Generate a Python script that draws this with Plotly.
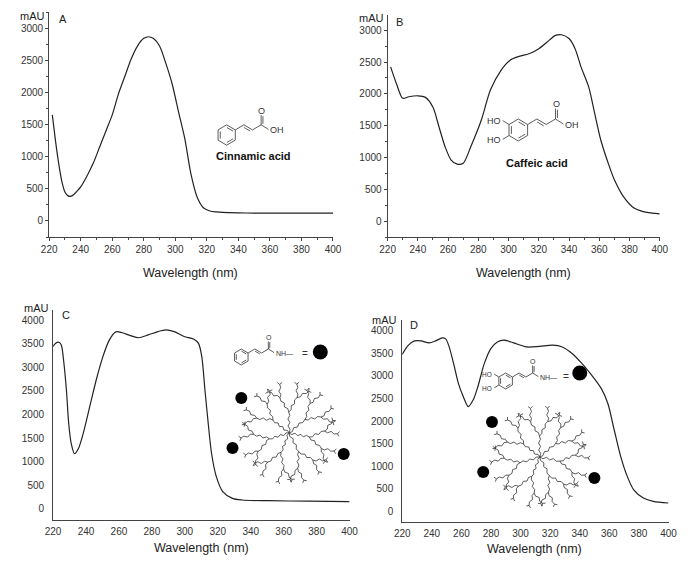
import math
import plotly.graph_objects as go

# ---------------- data ----------------
wl_a = [222, 224, 226, 228, 230, 232, 234, 236, 238, 240, 244, 248, 252, 256, 260, 264, 268, 272, 276,
        280, 283, 286, 290, 294, 298, 302, 306, 310, 314, 318, 322, 326, 330, 340, 350, 360, 380, 400]
abs_a = [1650, 1250, 900, 620, 450, 390, 385, 420, 470, 530, 700, 900, 1150, 1400, 1650, 1980, 2250,
         2520, 2720, 2840, 2865, 2840, 2720, 2450, 2130, 1700, 1280, 720, 360, 200, 155, 140, 132, 125,
         122, 120, 120, 120]

wl_b = [222, 226, 230, 234, 240, 245, 250, 254, 258, 262, 266, 270, 275, 282, 288, 295, 301, 307, 314,
        320, 327, 331, 335, 340, 344, 348, 353, 357, 361, 366, 370, 376, 383, 389, 395, 400]
abs_b = [2425, 2150, 1930, 1955, 1970, 1945, 1790, 1480, 1170, 960, 895, 910, 1170, 1590, 2060, 2370,
         2530, 2590, 2635, 2710, 2845, 2920, 2930, 2870, 2710, 2420, 2110, 1690, 1275, 905, 650, 385,
         205, 150, 125, 115]

wl_c = [220, 221.6, 223.6, 225, 226.6, 228.1, 229.5, 231, 233, 235.4, 238.3, 242.3, 246.2, 250.2, 254.2,
        258.1, 262, 267, 272, 277.8, 283.7, 288.6, 293.5, 299.5, 305.3, 308.3, 310.3, 312.2, 314.2,
        316.2, 319.1, 323, 328.9, 334.8, 350.6, 375, 400]
abs_c = [3440, 3510, 3530, 3470, 3080, 2520, 1810, 1390, 1170, 1280, 1600, 2170, 2730, 3220, 3580,
         3750, 3730, 3670, 3625, 3685, 3755, 3790, 3755, 3650, 3600, 3505, 3220, 2520, 1810, 1180,
         685, 370, 225, 190, 175, 165, 155]

wl_d = [220, 224, 228.3, 232.7, 238.2, 242.6, 247, 249.2, 251.4, 254.7, 258, 261.3, 264.6, 267.9,
        271.1, 275.5, 279.9, 284.3, 288.7, 295.3, 304, 312.9, 321.6, 328.2, 334.8, 341.4, 348, 354.6,
        359, 363.3, 367.7, 372.1, 376.5, 383, 389.7, 400]
abs_d = [3480, 3680, 3780, 3780, 3735, 3780, 3845, 3830, 3680, 3280, 2830, 2540, 2320, 2465, 2760,
         3280, 3610, 3755, 3795, 3735, 3645, 3660, 3685, 3645, 3500, 3280, 3020, 2720, 2390, 1800,
         1210, 770, 470, 290, 215, 178]

x_ticks = [220, 240, 260, 280, 300, 320, 340, 360, 380, 400]
y_ticks_ab = [0, 500, 1000, 1500, 2000, 2500, 3000]
y_ticks_cd = [0, 500, 1000, 1500, 2000, 2500, 3000, 3500, 4000]

panel_letters = ["A", "B", "C", "D"]
compound_names = ["Cinnamic acid", "Caffeic acid"]
x_title = "Wavelength (nm)"
y_unit = "mAU"

W, H = 690, 567
OFF = 8  # page body margin: the figure starts 8 px in from the window corner
FONT = "Liberation Sans, Arial, sans-serif"
INK = "#222222"

fig = go.Figure()

# ---------------- spectra ----------------
for i, (wx, wy) in enumerate([(wl_a, abs_a), (wl_b, abs_b), (wl_c, abs_c), (wl_d, abs_d)]):
    sfx = "" if i == 0 else str(i + 1)
    fig.add_trace(go.Scatter(x=wx, y=wy, mode="lines", line=dict(color=INK, width=1.2, shape="spline",
                                                               smoothing=0.8),
                             xaxis="x" + sfx, yaxis="y" + sfx, showlegend=False, hoverinfo="skip"))

# ---------------- decorations on a pixel overlay ----------------
seg_x, seg_y = [], []
txt = []


def seg(p, q):
    seg_x.extend([p[0], q[0], None])
    seg_y.extend([p[1], q[1], None])


def offset_line(p, q, cx, cy, frac=0.22, shrink=0.15):
    mx, my = (p[0] + q[0]) / 2, (p[1] + q[1]) / 2
    dx, dy = q[0] - p[0], q[1] - p[1]
    L = math.hypot(dx, dy)
    nx, ny = -dy / L, dx / L
    if (cx - mx) * nx + (cy - my) * ny < 0:
        nx, ny = -nx, -ny
    d = frac * L
    a = (p[0] + dx * shrink + nx * d, p[1] + dy * shrink + ny * d)
    b = (q[0] - dx * shrink + nx * d, q[1] - dy * shrink + ny * d)
    seg(a, b)


def molecule(cx, cy, r, kind, fs):
    P = lambda u, v: (cx + u * r, cy + v * r)
    verts = [P(math.cos(math.radians(a)), math.sin(math.radians(a))) for a in (-90, -30, 30, 90, 150, 210)]
    for k in range(6):
        seg(verts[k], verts[(k + 1) % 6])
    for k in (0, 2, 4):
        offset_line(verts[k], verts[k + 1], cx, cy)
    c1 = P(0.866, -0.5)
    c2 = P(1.732, -1.0)
    c3 = P(2.598, -0.5)
    c4 = P(3.464, -1.0)
    o = P(3.464, -1.95)
    seg(c1, c2)
    seg(c2, c3)
    offset_line(c2, c3, *P(2.2, 0.6))
    seg(c3, c4)
    seg(c4, o)
    seg((c4[0] + 0.18 * r, c4[1] - 0.1 * r), (o[0] + 0.18 * r, o[1] + 0.1 * r))
    txt.append((o[0] + 0.05 * r, o[1] - 0.45 * r, "O", fs, "center"))
    e = P(4.2, -0.55)
    seg(c4, e)
    txt.append((e[0] - 0.05 * r, e[1] + 0.05 * r, "OH" if kind == "acid" else "NH—", fs, "left"))
    return P


def catechol(P, fs):
    seg(P(-0.866, -0.5), P(-1.45, -0.85))
    seg(P(-0.866, 0.5), P(-1.45, 0.85))
    txt.append((P(-1.45, -0.85)[0], P(-1.45, -0.85)[1], "HO", fs, "right"))
    txt.append((P(-1.45, 0.95)[0], P(-1.45, 0.95)[1], "HO", fs, "right"))


molecule(224, 135, 10.2, "acid", 9)
Pb = molecule(523, 130, 11, "acid", 9)
catechol(Pb, 9)
molecule(239, 357, 8, "amide", 7)
Pd = molecule(510, 381, 8, "amide", 7)
catechol(Pd, 6.5)


def dendrimer(cx, cy):
    def zig(x0, y0, x1, y1):
        L = math.hypot(x1 - x0, y1 - y0)
        n = max(2, int(L / 3.0))
        ux, uy = (x1 - x0) / L, (y1 - y0) / L
        px, py = -uy, ux
        for i in range(n + 1):
            t = i / n
            off = 0 if i in (0, n) else (1.0 if i % 2 else -1.0)
            seg_x.append(x0 + ux * L * t + px * off)
            seg_y.append(y0 + uy * L * t + py * off)
        seg_x.append(None)
        seg_y.append(None)

    def br(x, y, a, L, d):
        x1, y1 = x + L * math.cos(a), y + L * math.sin(a)
        zig(x, y, x1, y1)
        if d > 0:
            for s in (-1, 1):
                br(x1, y1, a + s * 0.55, L * 0.8, d - 1)
        else:
            for s in (-1, 1):
                aa = a + s * 0.9
                seg((x1, y1), (x1 + 3 * math.cos(aa), y1 + 3 * math.sin(aa)))

    for k in range(7):
        br(cx, cy, math.radians(-150 + k * 51 + 8), 21, 2)


dendrimer(288, 433)
dendrimer(545, 457)

fig.add_trace(go.Scatter(x=seg_x, y=seg_y, mode="lines", line=dict(color="#333333", width=0.8),
                         xaxis="x5", yaxis="y5", showlegend=False, hoverinfo="skip"))

dot_offsets = [(-49, -35), (-58, 15), (56, 21)]
dots_x, dots_y, dots_s = [], [], []
for (cx, cy) in [(288, 433), (545, 457)]:
    for dx, dy in dot_offsets:
        dots_x.append(cx + dx)
        dots_y.append(cy + dy)
        dots_s.append(12)
for (dx_, dy_) in [(320, 352), (586, 373)]:
    dots_x.append(dx_)
    dots_y.append(dy_)
    dots_s.append(15)
fig.add_trace(go.Scatter(x=dots_x, y=dots_y, mode="markers",
                         marker=dict(color="#000000", size=dots_s, opacity=1, line=dict(width=0)),
                         xaxis="x5", yaxis="y5", showlegend=False, hoverinfo="skip"))

annotations = []
for (x, y, t, fs, anc) in txt:
    annotations.append(dict(x=x, y=y, xref="x5", yref="y5", text=t, showarrow=False,
                            font=dict(family=FONT, size=fs, color="#333"), xanchor=anc, yanchor="middle"))
for (x, y) in [(304, 353), (572, 376)]:
    annotations.append(dict(x=x, y=y, xref="x5", yref="y5", text="=", showarrow=False,
                            font=dict(family=FONT, size=10, color="#333"), xanchor="center", yanchor="middle"))

annotations.append(dict(x=252, y=156, xref="x5", yref="y5", text="<b>%s</b>" % compound_names[0],
                        showarrow=False, font=dict(family=FONT, size=11, color="#111")))
annotations.append(dict(x=542, y=163, xref="x5", yref="y5", text="<b>%s</b>" % compound_names[1],
                        showarrow=False, font=dict(family=FONT, size=11, color="#111")))

for (ux, uy, lx, ly, tx, ty, letter) in [
    (40, 16, 50, 19, 187, 273, panel_letters[0]),
    (387, 18, 396, 22, 528, 273, panel_letters[1]),
    (44, 308, 53, 315, 198, 548, panel_letters[2]),
    (401, 320, 410, 325, 540, 549, panel_letters[3]),
]:
    annotations.append(dict(x=ux, y=uy, xref="x5", yref="y5", text=y_unit, showarrow=False,
                            xanchor="right", font=dict(family=FONT, size=11, color="#222")))
    annotations.append(dict(x=lx, y=ly, xref="x5", yref="y5", text=letter, showarrow=False,
                            xanchor="left", font=dict(family=FONT, size=11, color="#222")))
    annotations.append(dict(x=tx, y=ty, xref="x5", yref="y5", text=x_title, showarrow=False,
                            font=dict(family=FONT, size=12.5, color="#222")))

tickfont = dict(family=FONT, size=10, color="#333")


def xa(dom, minor):
    d = dict(domain=[(dom[0] - OFF) / W, (dom[1] - OFF) / W], range=[220, 400], tickvals=x_ticks,
             showline=True, linecolor="#444", linewidth=1, showgrid=False, zeroline=False, tickfont=tickfont,
             fixedrange=True)
    if minor:
        d.update(ticks="outside", ticklen=3, tickcolor="#444",
                 minor=dict(dtick=10, ticks="outside", ticklen=2, tickcolor="#444"))
    else:
        d.update(ticks="outside", ticklen=2, tickcolor="rgba(0,0,0,0)")
    return d


def ya(top, bot, rng, vals, minor):
    d = dict(domain=[1 - (bot - OFF) / H, 1 - (top - OFF) / H], range=rng, tickvals=vals, showline=True,
             linecolor="#444", linewidth=1, showgrid=False, zeroline=False, tickfont=tickfont, fixedrange=True)
    if minor:
        d.update(ticks="outside", ticklen=3, tickcolor="#444",
                 minor=dict(dtick=250, ticks="outside", ticklen=2, tickcolor="#444"))
    else:
        d.update(ticks="outside", ticklen=6, tickcolor="rgba(0,0,0,0)")
    return d


fig.update_layout(
    width=W, height=H, margin=dict(l=0, r=0, t=0, b=0),
    paper_bgcolor="white", plot_bgcolor="rgba(0,0,0,0)", showlegend=False,
    xaxis=dict(xa((42, 333), True), anchor="y"),
    yaxis=dict(ya(12, 237, [-250, 3250], y_ticks_ab, True), anchor="x"),
    xaxis2=dict(xa((389, 668), True), anchor="y2"),
    yaxis2=dict(ya(15, 237, [-250, 3240], y_ticks_ab, True), anchor="x2"),
    xaxis3=dict(xa((46, 350), False), anchor="y3"),
    yaxis3=dict(ya(310, 520, [-233, 4212], y_ticks_cd, False), anchor="x3"),
    xaxis4=dict(xa((404, 677), False), anchor="y4"),
    yaxis4=dict(ya(320, 522, [-244, 4244], y_ticks_cd, False), anchor="x4"),
    xaxis5=dict(domain=[0, 1], range=[OFF, W + OFF], visible=False, anchor="y5", fixedrange=True),
    yaxis5=dict(domain=[0, 1], range=[H + OFF, OFF], visible=False, anchor="x5", fixedrange=True),
    annotations=annotations,
)

fig.write_html("out.html")
